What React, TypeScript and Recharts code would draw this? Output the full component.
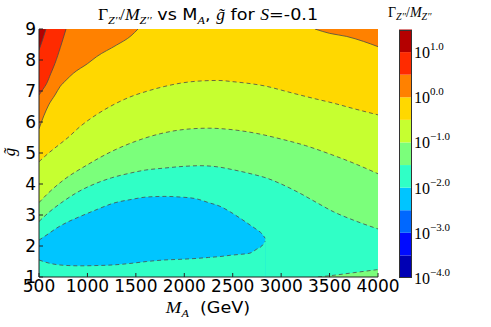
import React from 'react';
import { ComposedChart, Area, XAxis, YAxis, CartesianGrid, BarChart, Bar } from 'recharts';

const SANS = 'DejaVu Sans';
const SERIF = 'Liberation Serif';
const SX = 1.1; // the reference title is a little wider than the font
const TICK_SX = 1.0;

const X_TICKS = [500, 1000, 1500, 2000, 2500, 3000, 3500, 4000];
const Y_TICKS = [1, 2, 3, 4, 5, 6, 7, 8, 9];
const CBAR_TICKS = [0, 1, 2, 3, 4, 5]; // exponent = tick - 4

// one colour per half-decade band, 10^-4 ... 10^1.5
const LEVEL_COLORS = [
  '#0000b4', '#000bff', '#0068ff', '#00c5ff', '#30ffc6', '#7bff7b',
  '#c6ff30', '#ffd800', '#ff8100', '#ff2b00', '#b40000',
];

// contour edges, [M_A, g~]
const darkRedEdge = [[500, 8.32], [540, 8.68], [572, 9]];
const redEdge = [[500, 6.87], [540, 7.05], [580, 7.25], [620, 7.55], [665, 7.89], [720, 8.4], [779, 9]];
const orangeEdgeLeft = [
  [500, 5.78], [550, 6.2], [600, 6.55], [665, 6.87], [717, 7.14], [780, 7.35], [854, 7.57],
  [1000, 7.88], [1096, 8.11], [1300, 8.48], [1450, 8.78], [1522, 9],
];
const orangeEdgeRight = [[3349, 9], [3500, 8.86], [3677, 8.76], [3850, 8.6], [4000, 8.43]];
const yellowEdge = [
  [500, 4.72], [600, 5.0], [700, 5.25], [800, 5.5], [923, 5.85], [1100, 6.25], [1264, 6.55],
  [1450, 6.82], [1612, 6.99], [1800, 7.15], [1956, 7.25], [2150, 7.32], [2350, 7.34],
  [2503, 7.3], [2700, 7.23], [2851, 7.15], [3000, 7.03], [3195, 6.87], [3350, 6.75],
  [3537, 6.61], [3750, 6.43], [4000, 6.23],
];
const yellowGreenEdge = [
  [500, 3.4], [600, 3.72], [750, 4.12], [1000, 4.62], [1250, 5.05], [1500, 5.38], [1750, 5.62],
  [2000, 5.76], [2250, 5.8], [2500, 5.75], [2750, 5.63], [3000, 5.45], [3250, 5.24],
  [3500, 4.97], [3750, 4.67], [4000, 4.33],
];
const greenEdge = [
  [500, 2.79], [600, 3.08], [751, 3.44], [900, 3.74], [1096, 4.03], [1250, 4.2], [1440, 4.35],
  [1600, 4.45], [1783, 4.51], [2000, 4.57], [2162, 4.59], [2350, 4.55], [2503, 4.46],
  [2700, 4.32], [2851, 4.19], [3000, 4.0], [3195, 3.7], [3350, 3.43], [3537, 3.11],
  [3750, 2.83], [4000, 2.55],
];
const bottomGreenEdge = [[3380, 1.0], [3500, 1.04], [3750, 1.14], [4000, 1.24]];
const blobTop = [
  [500, 2.19], [600, 2.4], [683, 2.58], [800, 2.78], [923, 2.95], [1100, 3.18], [1267, 3.38],
  [1450, 3.5], [1612, 3.58], [1800, 3.6], [1956, 3.58], [2128, 3.52], [2250, 3.4],
  [2369, 3.28], [2475, 3.1], [2575, 2.9], [2678, 2.68], [2748, 2.53], [2800, 2.4], [2835, 2.25],
];
const blobBottom = [
  [500, 1.55], [600, 1.45], [683, 1.4], [800, 1.37], [923, 1.36], [1100, 1.37], [1267, 1.39],
  [1450, 1.44], [1612, 1.5], [1800, 1.55], [1956, 1.57], [2128, 1.6], [2250, 1.63],
  [2369, 1.66], [2475, 1.7], [2575, 1.73], [2678, 1.77], [2748, 1.9], [2800, 2.0], [2835, 2.15],
];

const SERIES: Record<string, number[][]> = {
  darkRed: darkRedEdge, red: redEdge, orangeL: orangeEdgeLeft, orangeR: orangeEdgeRight,
  yellow: yellowEdge, yellowGreen: yellowGreenEdge, green: greenEdge,
  bottomGreen: bottomGreenEdge, blobTop, blobBottom,
};

const xs = Array.from(new Set(Object.values(SERIES).flatMap((s) => s.map((p) => p[0])))).sort((a, b) => a - b);
const table = xs.map((x) => {
  const row: any = { x };
  for (const [k, s] of Object.entries(SERIES)) {
    const p = s.find((q) => q[0] === x);
    row[k] = p ? p[1] : null;
  }
  return row;
});

const cbarRow: any = { name: 'cb' };
LEVEL_COLORS.forEach((_, i) => (cbarRow['b' + i] = 0.5));

const LINE = '#4a4a4a';

const band = (key: string, color: string, base: number, dashed: boolean) => (
  <Area
    key={key}
    dataKey={key}
    type="monotone"
    baseValue={base}
    fill={color}
    fillOpacity={1}
    stroke={LINE}
    strokeWidth={0.8}
    strokeDasharray={dashed ? '4 3' : undefined}
    connectNulls
    dot={false}
    activeDot={false}
    isAnimationActive={false}
  />
);

const XTick = ({ x, y, payload }: any) => (
  <text transform={`translate(${x},${y}) scale(${TICK_SX},1)`} textAnchor="middle" dy="0.71em"
    fontSize={17} fontFamily={SANS} fill="#000">{payload.value}</text>
);

const YTick = ({ x, y, payload }: any) => (
  <text transform={`translate(${x},${y}) scale(${TICK_SX},1)`} textAnchor="end" dy="0.36em"
    fontSize={17} fontFamily={SANS} fill="#000">{payload.value}</text>
);

const CbarTick = ({ x, y, payload }: any) => {
  const e = (payload.value - 4).toFixed(1).replace('-', '\u2212');
  return (
    <text x={x} y={y + 6} fontFamily={SERIF} fontSize={16} fill="#000">
      10<tspan dy={-8} fontSize={11}>{e}</tspan>
    </text>
  );
};

export default function App() {
  const sub = { fontFamily: SERIF, fontStyle: 'italic' as const, fontSize: 11 };
  return (
    <div style={{ position: 'absolute', left: 0, top: 0, width: 491, height: 327, background: '#fff' }}>
      <ComposedChart
        width={491}
        height={327}
        data={table}
        margin={{ top: 29, right: 113, bottom: 20, left: 9 }}
      >
        <CartesianGrid horizontal={false} vertical={false} fill={LEVEL_COLORS[4]} />
        <XAxis
          dataKey="x"
          type="number"
          domain={[500, 4000]}
          ticks={X_TICKS}
          allowDataOverflow
          height={30}
          tickSize={-4}
          tickMargin={7}
          stroke="#222"
          tick={<XTick />}
        />
        <XAxis xAxisId="top" orientation="top" type="number" domain={[500, 4000]} ticks={X_TICKS}
          allowDataOverflow height={0} tickSize={-4} tick={false} stroke="#222" />
        <YAxis
          type="number"
          domain={[1, 9]}
          ticks={Y_TICKS}
          allowDataOverflow
          width={30}
          tickSize={-4}
          tickMargin={7}
          stroke="#222"
          tick={<YTick />}
        />
        <YAxis yAxisId="right" orientation="right" type="number" domain={[1, 9]} ticks={Y_TICKS}
          allowDataOverflow width={0} tickSize={-4} tick={false} stroke="#222" />
        {band('green', LEVEL_COLORS[5], 9, true)}
        {band('yellowGreen', LEVEL_COLORS[6], 9, true)}
        {band('yellow', LEVEL_COLORS[7], 9, true)}
        {band('orangeL', LEVEL_COLORS[8], 9, false)}
        {band('orangeR', LEVEL_COLORS[8], 9, false)}
        {band('red', LEVEL_COLORS[9], 9, false)}
        {band('darkRed', LEVEL_COLORS[10], 9, false)}
        {band('bottomGreen', LEVEL_COLORS[5], 1, true)}
        {band('blobTop', LEVEL_COLORS[3], 1, true)}
        {band('blobBottom', LEVEL_COLORS[4], 1, true)}
      </ComposedChart>

      <div style={{ position: 'absolute', left: 390, top: 0 }}>
        <BarChart
          width={101}
          height={327}
          data={[cbarRow]}
          barCategoryGap={0}
          margin={{ top: 29.5, right: 0, bottom: 49, left: 9 }}
        >
          <XAxis dataKey="name" hide />
          <YAxis
            orientation="right"
            type="number"
            domain={[0, 5.5]}
            ticks={CBAR_TICKS}
            width={79}
            axisLine={false}
            tickLine={false}
            tickSize={0}
            tickMargin={2}
            tick={<CbarTick />}
          />
          {LEVEL_COLORS.map((c, i) => (
            <Bar key={i} dataKey={'b' + i} stackId="cb" fill={c} isAnimationActive={false} />
          ))}
        </BarChart>
      </div>
      <div style={{ position: 'absolute', left: 399, top: 29.5, width: 13, height: 248.5, border: '1px solid #333', boxSizing: 'border-box' }} />

      <svg width={491} height={327} style={{ position: 'absolute', left: 0, top: 0, pointerEvents: 'none' }}>
        <g transform={`translate(208,0) scale(${SX},1)`}>
          <text x={0} y={20} textAnchor="middle" fontSize={16} fontFamily={SANS} fill="#000">
            <tspan fontFamily={SERIF}>Γ</tspan>
            <tspan {...sub} dy={4}>Z′′</tspan>
            <tspan fontFamily={SERIF} dy={-4}>/</tspan>
            <tspan fontFamily={SERIF} fontStyle="italic">M</tspan>
            <tspan {...sub} dy={4}>Z′′</tspan>
            <tspan dy={-4}>{' vs M'}</tspan>
            <tspan {...sub} dy={4}>A</tspan>
            <tspan dy={-4}>{', '}</tspan>
            <tspan fontFamily={SERIF} fontStyle="italic">{'g\u0303'}</tspan>
            <tspan>{' for '}</tspan>
            <tspan fontFamily={SERIF} fontStyle="italic">S</tspan>
            <tspan>=-0.1</tspan>
          </text>
        </g>
        <text transform="translate(15,152) rotate(-90)" textAnchor="middle" fontSize={17}
          fontFamily={SERIF} fontStyle="italic" fill="#000">{'g\u0303'}</text>
        <g transform={`translate(208,313) scale(${SX},1)`}>
          <text x={0} y={0} textAnchor="middle" fontSize={16} fontFamily={SANS} fill="#000">
            <tspan fontFamily={SERIF} fontStyle="italic" fontSize={17}>M</tspan>
            <tspan {...sub} dy={4}>A</tspan>
            <tspan dy={-4}>{'\u00a0 (GeV)'}</tspan>
          </text>
        </g>
        <text x={388} y={17} fontSize={14} fontFamily={SERIF} fill="#000">
          <tspan>Γ</tspan>
          <tspan fontStyle="italic" fontSize={10} dy={3}>Z′′</tspan>
          <tspan dy={-3}>/</tspan>
          <tspan fontStyle="italic">M</tspan>
          <tspan fontStyle="italic" fontSize={10} dy={3}>Z′′</tspan>
        </text>
      </svg>
    </div>
  );
}
